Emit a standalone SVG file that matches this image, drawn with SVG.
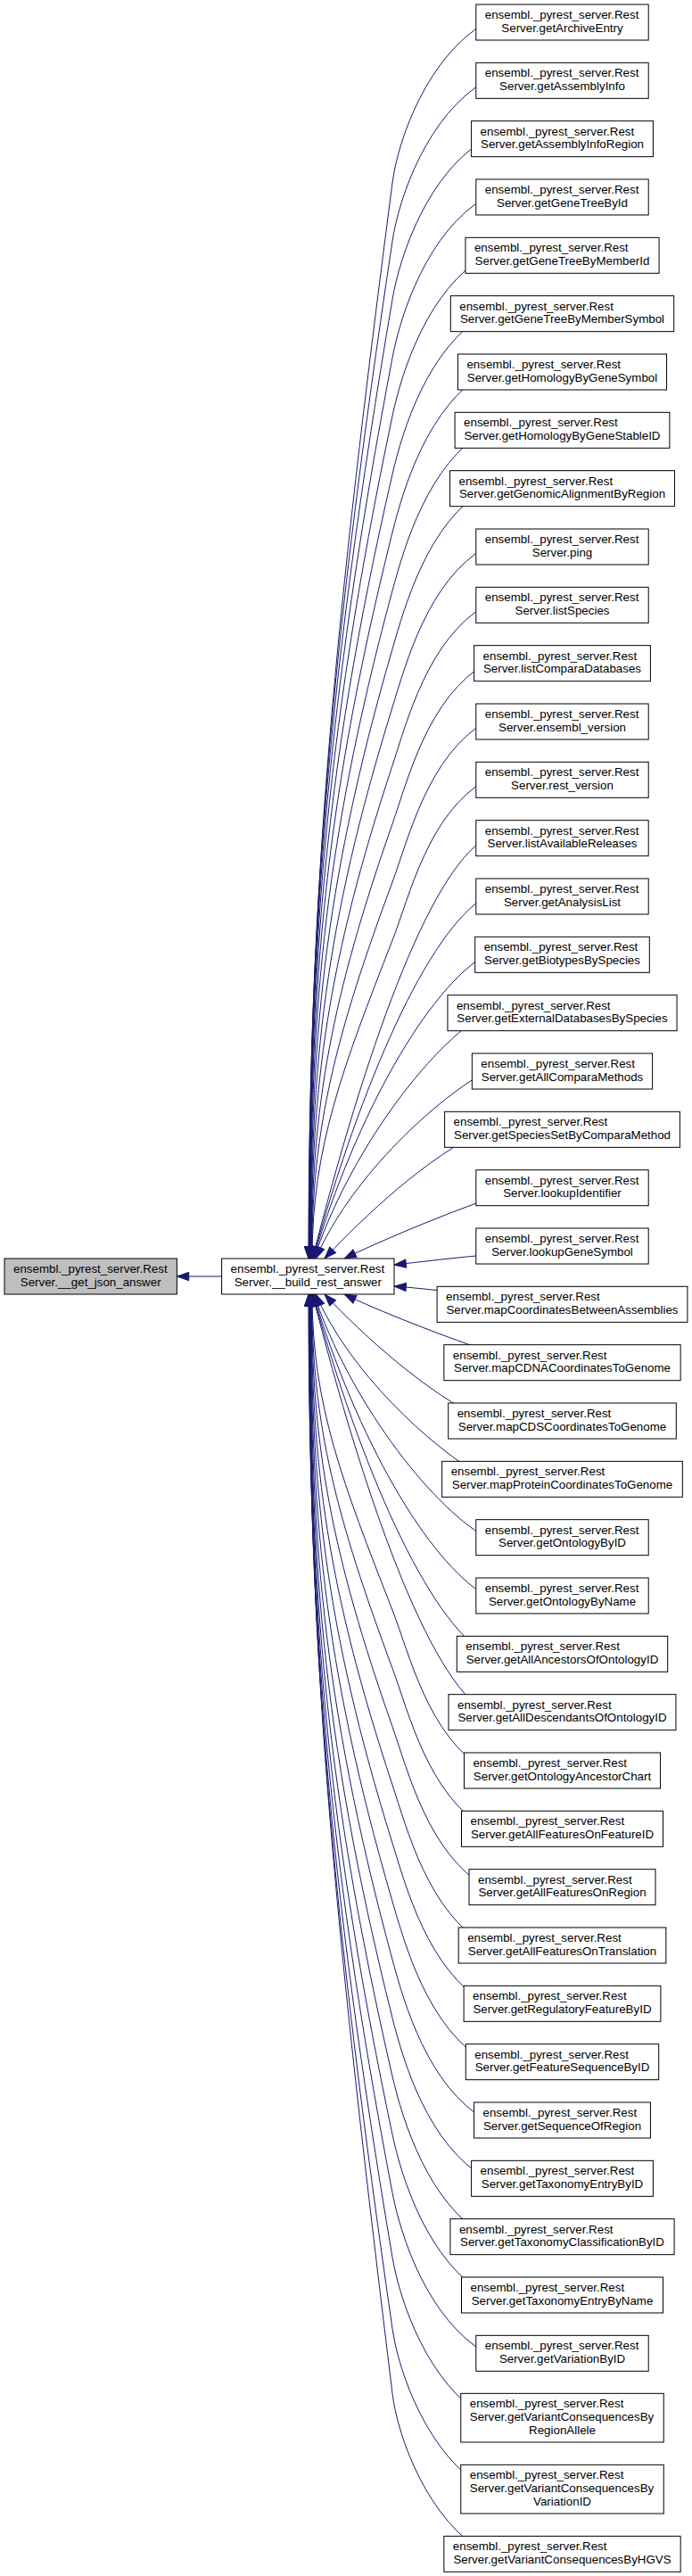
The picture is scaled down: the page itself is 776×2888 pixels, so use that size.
<svg xmlns="http://www.w3.org/2000/svg" width="776" height="2888" viewBox="0 0 776 2888">
<style>
.e{fill:none;stroke:#191970;stroke-width:1;marker-end:url(#ah)}
.n{fill:#fff;stroke:#000;stroke-width:1}
.g{fill:#bfbfbf;stroke:#000;stroke-width:1}
text{font-family:"Liberation Sans",Arial,Helvetica,sans-serif;font-size:13.33px;fill:#000}
.m{text-anchor:middle}
</style>
<defs>
<marker id="ah" markerUnits="userSpaceOnUse" markerWidth="13.33" markerHeight="9.33" viewBox="0 0 13.33 9.33" refX="13.33" refY="4.67" orient="auto" style="overflow:visible">
<path d="M0,0L13.33,4.67L0,9.33z" fill="#191970" stroke="#191970" stroke-width="1"/>
</marker>
</defs>
<rect width="776" height="2888" fill="#fff"/>
<g id="edges">
<path class="e" d="M248.6,1431L198.4,1431"/>
<path class="e" d="M545,25C480,63 446.5,155 440,205C377.3,687.4 346,988.9 346,1411"/>
<path class="e" d="M545,90.3C480,128.3 447.5,220.3 440,270.3C371.6,726.6 346.3,1011.8 346.3,1411"/>
<path class="e" d="M545,155.7C480,193.7 448.5,285.7 440,335.7C366.9,765.8 346.6,1034.6 346.6,1411"/>
<path class="e" d="M545,221C480,259 449.5,351 440,401C363.2,805 346.9,1057.5 346.9,1411"/>
<path class="e" d="M545,286.3C480,324.3 450.5,416.3 440,466.3C360.6,844.2 347.2,1080.4 347.2,1411"/>
<path class="e" d="M545,351.7C480,389.7 451.5,481.7 440,531.7C359.1,883.4 347.5,1103.2 347.5,1411"/>
<path class="e" d="M545,417C480,455 452.5,547 440,597C358.6,922.6 347.8,1126.1 347.8,1411"/>
<path class="e" d="M545,482.3C480,520.3 453.5,612.3 440,662.3C359.1,961.8 348.1,1149 348.1,1411"/>
<path class="e" d="M545,547.7C480,585.7 454.5,677.7 440,727.7C360.7,1001 348.4,1171.8 348.4,1411"/>
<path class="e" d="M545,613C480,651 455.5,743 440,793C363.4,1040.2 348.7,1194.7 348.7,1411"/>
<path class="e" d="M545,678.3C480,716.3 456.5,808.3 440,858.3C367,1079.4 349,1217.6 349,1411"/>
<path class="e" d="M545,743.7C480,781.7 457.5,873.7 440,923.7C371.8,1118.6 349.3,1240.4 349.3,1411"/>
<path class="e" d="M545,809C480,847 458.5,939 440,989C377.5,1157.8 349.6,1263.3 349.6,1411"/>
<path class="e" d="M545,874.3C480,912.3 459.5,1004.3 440,1054.3C384.4,1197 350,1286.2 350,1411"/>
<path class="e" d="M545,939.7C480,977.7 408.6,1182.6 350.4,1411"/>
<path class="e" d="M545,1005C480,1043 404.6,1215.3 350.8,1411"/>
<path class="e" d="M545,1070.3C480,1108.3 400.2,1247.8 351.3,1411"/>
<path class="e" d="M545,1135.7C480,1173.7 391.4,1293.5 352,1411"/>
<path class="e" d="M545,1201C480,1239 391.7,1324.3 354,1411"/>
<path class="e" d="M545,1266.3C480,1296.3 408.4,1363.5 364,1411"/>
<path class="e" d="M560,1340C500,1360 421.9,1393.4 386,1411"/>
<path class="e" d="M545,1407C500,1411 470,1415 442,1418"/>
<path class="e" d="M545,1452C500,1448 470,1444 442,1442"/>
<path class="e" d="M560,1519.3C500,1499.3 421.9,1468.6 386,1451"/>
<path class="e" d="M545,1593C480,1563 407.7,1497.7 364,1451"/>
<path class="e" d="M545,1658.3C480,1620.3 391.2,1536.6 354,1451"/>
<path class="e" d="M545,1723.7C480,1685.7 391,1567.3 352,1451"/>
<path class="e" d="M545,1789C480,1751 399.8,1612.9 351.3,1451"/>
<path class="e" d="M545,1854.3C480,1816.3 404.2,1645.4 350.8,1451"/>
<path class="e" d="M545,1919.7C480,1881.7 408.3,1678 350.4,1451"/>
<path class="e" d="M545,1985C480,1947 459.6,1855 440,1805C384.6,1663.4 350,1574.9 350,1451"/>
<path class="e" d="M545,2050.3C480,2012.3 458.6,1920.3 440,1870.3C377.8,1702.6 349.6,1597.8 349.6,1451"/>
<path class="e" d="M545,2115.7C480,2077.7 457.6,1985.7 440,1935.7C371.9,1741.8 349.3,1620.6 349.3,1451"/>
<path class="e" d="M545,2181C480,2143 456.6,2051 440,2001C367.2,1781 349,1643.5 349,1451"/>
<path class="e" d="M545,2246.3C480,2208.3 455.6,2116.3 440,2066.3C363.5,1820.2 348.7,1666.4 348.7,1451"/>
<path class="e" d="M545,2311.7C480,2273.7 454.6,2181.7 440,2131.7C360.8,1859.4 348.4,1689.2 348.4,1451"/>
<path class="e" d="M545,2377C480,2339 453.6,2247 440,2197C359.1,1898.6 348.1,1712.1 348.1,1451"/>
<path class="e" d="M545,2442.3C480,2404.3 452.6,2312.3 440,2262.3C358.5,1937.8 347.8,1735 347.8,1451"/>
<path class="e" d="M545,2507.7C480,2469.7 451.6,2377.7 440,2327.7C359,1977 347.5,1757.8 347.5,1451"/>
<path class="e" d="M545,2573C480,2535 450.6,2443 440,2393C360.5,2016.2 347.2,1780.7 347.2,1451"/>
<path class="e" d="M545,2638.3C480,2600.3 449.6,2508.3 440,2458.3C363,2055.4 346.9,1803.6 346.9,1451"/>
<path class="e" d="M545,2710.7C480,2672.7 448.5,2580.7 440,2530.7C367,2098.8 346.6,1828.9 346.6,1451"/>
<path class="e" d="M545,2790.7C480,2752.7 447.2,2660.7 440,2610.7C373.2,2146.8 346.3,1856.9 346.3,1451"/>
<path class="e" d="M545,2863.3C480,2825.3 446.1,2733.3 440,2683.3C379.9,2190.4 346,1882.3 346,1451"/>
</g>
<g id="get_json_answer"><rect class="g" x="5" y="1411" width="193.4" height="40"/><text x="15" y="1427">ensembl._pyrest_server.Rest</text><text class="m" x="101.7" y="1441.67">Server.__get_json_answer</text></g>
<g id="build_rest_answer"><rect class="n" x="248.6" y="1411" width="193.4" height="40"/><text x="258.6" y="1427">ensembl._pyrest_server.Rest</text><text class="m" x="345.3" y="1441.67">Server.__build_rest_answer</text></g>
<g id="n1"><rect class="n" x="533.8" y="5" width="193.4" height="40"/><text x="543.8" y="21">ensembl._pyrest_server.Rest</text><text class="m" x="630.5" y="35.67">Server.getArchiveEntry</text></g>
<g id="n2"><rect class="n" x="533.8" y="70.33" width="193.4" height="40"/><text x="543.8" y="86.33">ensembl._pyrest_server.Rest</text><text class="m" x="630.5" y="101">Server.getAssemblyInfo</text></g>
<g id="n3"><rect class="n" x="528.6" y="135.67" width="203.8" height="40"/><text x="538.6" y="151.67">ensembl._pyrest_server.Rest</text><text class="m" x="630.5" y="166.33">Server.getAssemblyInfoRegion</text></g>
<g id="n4"><rect class="n" x="533.8" y="201" width="193.4" height="40"/><text x="543.8" y="217">ensembl._pyrest_server.Rest</text><text class="m" x="630.5" y="231.67">Server.getGeneTreeById</text></g>
<g id="n5"><rect class="n" x="521.95" y="266.33" width="217.1" height="40"/><text x="531.95" y="282.33">ensembl._pyrest_server.Rest</text><text class="m" x="630.5" y="297">Server.getGeneTreeByMemberId</text></g>
<g id="n6"><rect class="n" x="505.3" y="331.67" width="250.4" height="40"/><text x="515.3" y="347.67">ensembl._pyrest_server.Rest</text><text class="m" x="630.5" y="362.33">Server.getGeneTreeByMemberSymbol</text></g>
<g id="n7"><rect class="n" x="513.45" y="397" width="234.1" height="40"/><text x="523.45" y="413">ensembl._pyrest_server.Rest</text><text class="m" x="630.5" y="427.67">Server.getHomologyByGeneSymbol</text></g>
<g id="n8"><rect class="n" x="510.1" y="462.33" width="240.8" height="40"/><text x="520.1" y="478.33">ensembl._pyrest_server.Rest</text><text class="m" x="630.5" y="493">Server.getHomologyByGeneStableID</text></g>
<g id="n9"><rect class="n" x="504.55" y="527.67" width="251.9" height="40"/><text x="514.55" y="543.67">ensembl._pyrest_server.Rest</text><text class="m" x="630.5" y="558.33">Server.getGenomicAlignmentByRegion</text></g>
<g id="n10"><rect class="n" x="533.8" y="593" width="193.4" height="40"/><text x="543.8" y="609">ensembl._pyrest_server.Rest</text><text class="m" x="630.5" y="623.67">Server.ping</text></g>
<g id="n11"><rect class="n" x="533.8" y="658.33" width="193.4" height="40"/><text x="543.8" y="674.33">ensembl._pyrest_server.Rest</text><text class="m" x="630.5" y="689">Server.listSpecies</text></g>
<g id="n12"><rect class="n" x="531.6" y="723.67" width="197.8" height="40"/><text x="541.6" y="739.67">ensembl._pyrest_server.Rest</text><text class="m" x="630.5" y="754.33">Server.listComparaDatabases</text></g>
<g id="n13"><rect class="n" x="533.8" y="789" width="193.4" height="40"/><text x="543.8" y="805">ensembl._pyrest_server.Rest</text><text class="m" x="630.5" y="819.67">Server.ensembl_version</text></g>
<g id="n14"><rect class="n" x="533.8" y="854.33" width="193.4" height="40"/><text x="543.8" y="870.33">ensembl._pyrest_server.Rest</text><text class="m" x="630.5" y="885">Server.rest_version</text></g>
<g id="n15"><rect class="n" x="533.8" y="919.67" width="193.4" height="40"/><text x="543.8" y="935.67">ensembl._pyrest_server.Rest</text><text class="m" x="630.5" y="950.33">Server.listAvailableReleases</text></g>
<g id="n16"><rect class="n" x="533.8" y="985" width="193.4" height="40"/><text x="543.8" y="1001">ensembl._pyrest_server.Rest</text><text class="m" x="630.5" y="1015.67">Server.getAnalysisList</text></g>
<g id="n17"><rect class="n" x="532.7" y="1050.33" width="195.6" height="40"/><text x="542.7" y="1066.33">ensembl._pyrest_server.Rest</text><text class="m" x="630.5" y="1081">Server.getBiotypesBySpecies</text></g>
<g id="n18"><rect class="n" x="501.95" y="1115.67" width="257.1" height="40"/><text x="511.95" y="1131.67">ensembl._pyrest_server.Rest</text><text class="m" x="630.5" y="1146.33">Server.getExternalDatabasesBySpecies</text></g>
<g id="n19"><rect class="n" x="529.35" y="1181" width="202.3" height="40"/><text x="539.35" y="1197">ensembl._pyrest_server.Rest</text><text class="m" x="630.5" y="1211.67">Server.getAllComparaMethods</text></g>
<g id="n20"><rect class="n" x="498.6" y="1246.33" width="263.8" height="40"/><text x="508.6" y="1262.33">ensembl._pyrest_server.Rest</text><text class="m" x="630.5" y="1277">Server.getSpeciesSetByComparaMethod</text></g>
<g id="n21"><rect class="n" x="533.8" y="1311.67" width="193.4" height="40"/><text x="543.8" y="1327.67">ensembl._pyrest_server.Rest</text><text class="m" x="630.5" y="1342.33">Server.lookupIdentifier</text></g>
<g id="n22"><rect class="n" x="533.8" y="1377" width="193.4" height="40"/><text x="543.8" y="1393">ensembl._pyrest_server.Rest</text><text class="m" x="630.5" y="1407.67">Server.lookupGeneSymbol</text></g>
<g id="n23"><rect class="n" x="490.1" y="1442.33" width="280.8" height="40"/><text x="500.1" y="1458.33">ensembl._pyrest_server.Rest</text><text class="m" x="630.5" y="1473">Server.mapCoordinatesBetweenAssemblies</text></g>
<g id="n24"><rect class="n" x="497.85" y="1507.67" width="265.3" height="40"/><text x="507.85" y="1523.67">ensembl._pyrest_server.Rest</text><text class="m" x="630.5" y="1538.33">Server.mapCDNACoordinatesToGenome</text></g>
<g id="n25"><rect class="n" x="502.7" y="1573" width="255.6" height="40"/><text x="512.7" y="1589">ensembl._pyrest_server.Rest</text><text class="m" x="630.5" y="1603.67">Server.mapCDSCoordinatesToGenome</text></g>
<g id="n26"><rect class="n" x="495.65" y="1638.33" width="269.7" height="40"/><text x="505.65" y="1654.33">ensembl._pyrest_server.Rest</text><text class="m" x="630.5" y="1669">Server.mapProteinCoordinatesToGenome</text></g>
<g id="n27"><rect class="n" x="533.8" y="1703.67" width="193.4" height="40"/><text x="543.8" y="1719.67">ensembl._pyrest_server.Rest</text><text class="m" x="630.5" y="1734.33">Server.getOntologyByID</text></g>
<g id="n28"><rect class="n" x="533.8" y="1769" width="193.4" height="40"/><text x="543.8" y="1785">ensembl._pyrest_server.Rest</text><text class="m" x="630.5" y="1799.67">Server.getOntologyByName</text></g>
<g id="n29"><rect class="n" x="512.3" y="1834.33" width="236.4" height="40"/><text x="522.3" y="1850.33">ensembl._pyrest_server.Rest</text><text class="m" x="630.5" y="1865">Server.getAllAncestorsOfOntologyID</text></g>
<g id="n30"><rect class="n" x="503.05" y="1899.67" width="254.9" height="40"/><text x="513.05" y="1915.67">ensembl._pyrest_server.Rest</text><text class="m" x="630.5" y="1930.33">Server.getAllDescendantsOfOntologyID</text></g>
<g id="n31"><rect class="n" x="520.45" y="1965" width="220.1" height="40"/><text x="530.45" y="1981">ensembl._pyrest_server.Rest</text><text class="m" x="630.5" y="1995.67">Server.getOntologyAncestorChart</text></g>
<g id="n32"><rect class="n" x="517.5" y="2030.33" width="226" height="40"/><text x="527.5" y="2046.33">ensembl._pyrest_server.Rest</text><text class="m" x="630.5" y="2061">Server.getAllFeaturesOnFeatureID</text></g>
<g id="n33"><rect class="n" x="526" y="2095.67" width="209" height="40"/><text x="536" y="2111.67">ensembl._pyrest_server.Rest</text><text class="m" x="630.5" y="2126.33">Server.getAllFeaturesOnRegion</text></g>
<g id="n34"><rect class="n" x="514.15" y="2161" width="232.7" height="40"/><text x="524.15" y="2177">ensembl._pyrest_server.Rest</text><text class="m" x="630.5" y="2191.67">Server.getAllFeaturesOnTranslation</text></g>
<g id="n35"><rect class="n" x="520.1" y="2226.33" width="220.8" height="40"/><text x="530.1" y="2242.33">ensembl._pyrest_server.Rest</text><text class="m" x="630.5" y="2257">Server.getRegulatoryFeatureByID</text></g>
<g id="n36"><rect class="n" x="522.3" y="2291.67" width="216.4" height="40"/><text x="532.3" y="2307.67">ensembl._pyrest_server.Rest</text><text class="m" x="630.5" y="2322.33">Server.getFeatureSequenceByID</text></g>
<g id="n37"><rect class="n" x="531.55" y="2357" width="197.9" height="40"/><text x="541.55" y="2373">ensembl._pyrest_server.Rest</text><text class="m" x="630.5" y="2387.67">Server.getSequenceOfRegion</text></g>
<g id="n38"><rect class="n" x="528.6" y="2422.33" width="203.8" height="40"/><text x="538.6" y="2438.33">ensembl._pyrest_server.Rest</text><text class="m" x="630.5" y="2453">Server.getTaxonomyEntryByID</text></g>
<g id="n39"><rect class="n" x="504.9" y="2487.67" width="251.2" height="40"/><text x="514.9" y="2503.67">ensembl._pyrest_server.Rest</text><text class="m" x="630.5" y="2518.33">Server.getTaxonomyClassificationByID</text></g>
<g id="n40"><rect class="n" x="517.5" y="2553" width="226" height="40"/><text x="527.5" y="2569">ensembl._pyrest_server.Rest</text><text class="m" x="630.5" y="2583.67">Server.getTaxonomyEntryByName</text></g>
<g id="n41"><rect class="n" x="533.8" y="2618.33" width="193.4" height="40"/><text x="543.8" y="2634.33">ensembl._pyrest_server.Rest</text><text class="m" x="630.5" y="2649">Server.getVariationByID</text></g>
<g id="n42"><rect class="n" x="516.75" y="2683.33" width="227.5" height="54.67"/><text x="526.75" y="2699.33">ensembl._pyrest_server.Rest</text><text x="526.75" y="2714">Server.getVariantConsequencesBy</text><text class="m" x="630.5" y="2728.67">RegionAllele</text></g>
<g id="n43"><rect class="n" x="516.75" y="2763.33" width="227.5" height="54.67"/><text x="526.75" y="2779.33">ensembl._pyrest_server.Rest</text><text x="526.75" y="2794">Server.getVariantConsequencesBy</text><text class="m" x="630.5" y="2808.67">VariationID</text></g>
<g id="n44"><rect class="n" x="497.85" y="2843.33" width="265.3" height="40"/><text x="507.85" y="2859.33">ensembl._pyrest_server.Rest</text><text class="m" x="630.5" y="2874">Server.getVariantConsequencesByHGVS</text></g>
</svg>
